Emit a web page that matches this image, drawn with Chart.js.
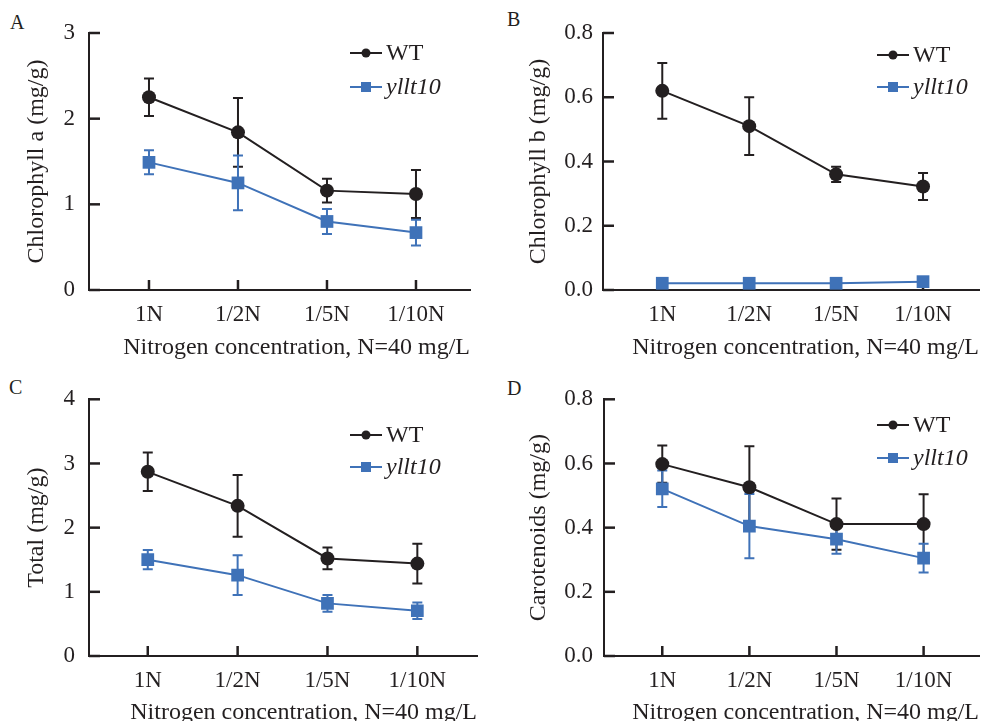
<!DOCTYPE html>
<html>
<head>
<meta charset="utf-8">
<script src="https://cdn.jsdelivr.net/npm/chart.js@4.4.0/dist/chart.umd.min.js"></script>
<style>
  body { margin: 0; background: #fff; overflow: hidden; width: 988px; height: 721px; position: relative;
         font-family: "Liberation Serif", "Times New Roman", serif; }
  canvas { position: absolute; }
  .tag { position: absolute; font-size: 20px; line-height: 1; color: #231f20; }
</style>
</head>
<body>
<div class="tag" style="left:10px;top:12px">A</div>
<div class="tag" style="left:507px;top:9px">B</div>
<div class="tag" style="left:9px;top:377px">C</div>
<div class="tag" style="left:507px;top:378px">D</div>
<canvas id="chart-a" width="494" height="370" style="left:0;top:0"></canvas>
<canvas id="chart-b" width="494" height="370" style="left:494px;top:0"></canvas>
<canvas id="chart-c" width="494" height="384" style="left:0;top:351px"></canvas>
<canvas id="chart-d" width="494" height="384" style="left:494px;top:351px"></canvas>
<script>
// ── Datos ──────────────────────────────────────────────────────────────────
const categories = ['1N', '1/2N', '1/5N', '1/10N'];
const seriesNames = ['WT', 'yllt10'];

const chlaWT     = [2.25, 1.84, 1.16, 1.12];
const chlaWTErr  = [0.22, 0.40, 0.14, 0.28];
const chlaMut    = [1.49, 1.25, 0.80, 0.67];
const chlaMutErr = [0.14, 0.32, 0.145, 0.15];

const chlbWT     = [0.62, 0.51, 0.36, 0.322];
const chlbWTErr  = [0.087, 0.09, 0.024, 0.042];
const chlbMut    = [0.021, 0.021, 0.021, 0.026];
const chlbMutErr = [0.004, 0.004, 0.004, 0.004];

const totalWT     = [2.87, 2.34, 1.52, 1.44];
const totalWTErr  = [0.30, 0.48, 0.17, 0.31];
const totalMut    = [1.50, 1.26, 0.82, 0.705];
const totalMutErr = [0.15, 0.31, 0.13, 0.13];

const carWT     = [0.598, 0.526, 0.411, 0.411];
const carWTErr  = [0.058, 0.128, 0.08, 0.093];
const carMut    = [0.521, 0.405, 0.364, 0.305];
const carMutErr = [0.057, 0.10, 0.045, 0.045];

const ticksA = [0, 1, 2, 3];
const ticksB = [0, 0.2, 0.4, 0.6, 0.8];
const ticksC = [0, 1, 2, 3, 4];
const ticksD = [0, 0.2, 0.4, 0.6, 0.8];

const xTitle = 'Nitrogen concentration, N=40 mg/L';

const INK = '#231f20';
const BLUE = '#3f72b8';
const SERIF = '"Liberation Serif", "Times New Roman", serif';

// ── Plugin: barras de error, marcas hacia dentro, leyenda ──────────────────
const panelDecor = {
  id: 'panelDecor',
  beforeDatasetsDraw(chart, args, opts) {
    const { ctx, chartArea: a } = chart;
    const xs = chart.scales.x, ys = chart.scales.y;
    ctx.save();
    // marcas de los ejes (hacia dentro)
    ctx.strokeStyle = INK;
    ctx.lineWidth = 2.5;
    ys.ticks.forEach(t => {
      const y = ys.getPixelForValue(t.value);
      ctx.beginPath(); ctx.moveTo(a.left, y); ctx.lineTo(a.left + 11, y); ctx.stroke();
    });
    xs.ticks.forEach(t => {
      const x = xs.getPixelForValue(t.value);
      ctx.beginPath(); ctx.moveTo(x, a.bottom); ctx.lineTo(x, a.bottom - 10); ctx.stroke();
    });
    // barras de error
    ctx.lineWidth = 2;
    chart.data.datasets.forEach(ds => {
      ctx.strokeStyle = ds.borderColor;
      ds.data.forEach((p, j) => {
        const e = ds.errors[j];
        const x = xs.getPixelForValue(p.x);
        const hi = ys.getPixelForValue(p.y + e);
        const lo = ys.getPixelForValue(p.y - e);
        ctx.beginPath();
        ctx.moveTo(x, hi); ctx.lineTo(x, lo);
        ctx.moveTo(x - 5, hi); ctx.lineTo(x + 5, hi);
        ctx.moveTo(x - 5, lo); ctx.lineTo(x + 5, lo);
        ctx.stroke();
      });
    });
    ctx.restore();
  },
  afterDraw(chart, args, opts) {
    const L = opts.legend;
    if (!L) return;
    const { ctx } = chart;
    ctx.save();
    chart.data.datasets.forEach((ds, i) => {
      const y = L.ys[i];
      ctx.strokeStyle = ds.borderColor;
      ctx.fillStyle = ds.borderColor;
      ctx.lineWidth = 2;
      ctx.beginPath(); ctx.moveTo(L.x, y); ctx.lineTo(L.x + 32, y); ctx.stroke();
      const mx = L.x + 16;
      if (ds.pointStyle === 'rect') {
        ctx.fillRect(mx - 5, y - 5, 10, 10);
      } else {
        ctx.beginPath(); ctx.arc(mx, y, 4.5, 0, Math.PI * 2); ctx.fill();
      }
      ctx.fillStyle = INK;
      ctx.font = (i === 1 ? 'italic ' : '') + '24px ' + SERIF;
      ctx.textBaseline = 'middle';
      ctx.fillText(ds.label, L.x + 36, y + 1);
    });
    ctx.restore();
  }
};

function toPoints(vals) { return vals.map((y, i) => ({ x: i, y })); }

function makePanel(id, p) {
  const cv = document.getElementById(id);
  const W = cv.width, H = cv.height;
  return new Chart(cv.getContext('2d'), {
    type: 'line',
    data: {
      datasets: [
        { label: seriesNames[0], data: toPoints(p.wt), errors: p.wtErr,
          borderColor: INK, backgroundColor: INK, borderWidth: 2,
          pointStyle: 'circle', pointRadius: 7, pointBackgroundColor: INK, pointBorderWidth: 0 },
        { label: seriesNames[1], data: toPoints(p.mut), errors: p.mutErr,
          borderColor: BLUE, backgroundColor: BLUE, borderWidth: 2,
          pointStyle: 'rect', pointRadius: 9, pointBackgroundColor: BLUE, pointBorderWidth: 0 }
      ]
    },
    options: {
      responsive: false,
      animation: false,
      devicePixelRatio: 1,
      layout: { padding: { left: 0, top: p.area.top, right: W - p.area.right, bottom: 0 } },
      plugins: {
        legend: { display: false },
        tooltip: { enabled: false },
        panelDecor: { legend: p.legend }
      },
      scales: {
        x: {
          type: 'linear', min: p.xMin, max: p.xMax,
          afterBuildTicks: s => { s.ticks = categories.map((c, i) => ({ value: i })); },
          afterFit: s => { s.height = H - p.area.bottom; },
          grid: { display: true, drawOnChartArea: false, drawTicks: false },
          border: { display: true, color: INK, width: 2 },
          ticks: { color: INK, padding: 11, font: { family: SERIF, size: 23 },
                   callback: v => categories[Math.round(v)] },
          title: { display: true, text: xTitle, align: 'end', color: INK,
                   font: { family: SERIF, size: 24, lineHeight: 1.2 }, padding: { top: 0, bottom: 7.6 } }
        },
        y: {
          min: 0, max: p.yTicks[p.yTicks.length - 1],
          afterBuildTicks: s => { s.ticks = p.yTicks.map(v => ({ value: v })); },
          afterFit: s => { s.width = p.area.left; },
          grid: { display: true, drawOnChartArea: false, drawTicks: false },
          border: { display: true, color: INK, width: 2 },
          ticks: { color: INK, padding: p.yPad, font: { family: SERIF, size: 23 },
                   callback: v => v.toFixed(p.decimals) },
          title: { display: true, text: p.yTitle, color: INK,
                   font: { family: SERIF, size: 24, lineHeight: 1.2 }, padding: { top: p.yTitlePad, bottom: 0 } }
        }
      }
    },
    plugins: [panelDecor]
  });
}

// ── Paneles ────────────────────────────────────────────────────────────────
makePanel('chart-a', {
  yTitle: 'Chlorophyll a (mg/g)', yTicks: ticksA, decimals: 0,
  wt: chlaWT, wtErr: chlaWTErr, mut: chlaMut, mutErr: chlaMutErr,
  area: { left: 89, right: 470, top: 33, bottom: 290 }, xMin: -0.674, xMax: 3.607,
  yPad: 14, yTitlePad: 22.6, legend: { x: 350, ys: [53, 87] }
});
makePanel('chart-b', {
  yTitle: 'Chlorophyll b (mg/g)', yTicks: ticksB, decimals: 1,
  wt: chlbWT, wtErr: chlbWTErr, mut: chlbMut, mutErr: chlbMutErr,
  area: { left: 109, right: 494, top: 33, bottom: 290 }, xMin: -0.682, xMax: 3.644,
  yPad: 10, yTitlePad: 30.6, legend: { x: 383, ys: [55, 87] }
});
makePanel('chart-c', {
  yTitle: 'Total (mg/g)', yTicks: ticksC, decimals: 0,
  wt: totalWT, wtErr: totalWTErr, mut: totalMut, mutErr: totalMutErr,
  area: { left: 89, right: 477, top: 48.3, bottom: 305 }, xMin: -0.654, xMax: 3.664,
  yPad: 14, yTitlePad: 22.6, legend: { x: 350, ys: [84, 116] }
});
makePanel('chart-d', {
  yTitle: 'Carotenoids (mg/g)', yTicks: ticksD, decimals: 1,
  wt: carWT, wtErr: carWTErr, mut: carMut, mutErr: carMutErr,
  area: { left: 110, right: 494, top: 48.3, bottom: 305 }, xMin: -0.669, xMax: 3.636,
  yPad: 11, yTitlePad: 30.6, legend: { x: 383, ys: [74, 107] }
});
</script>
</body>
</html>
